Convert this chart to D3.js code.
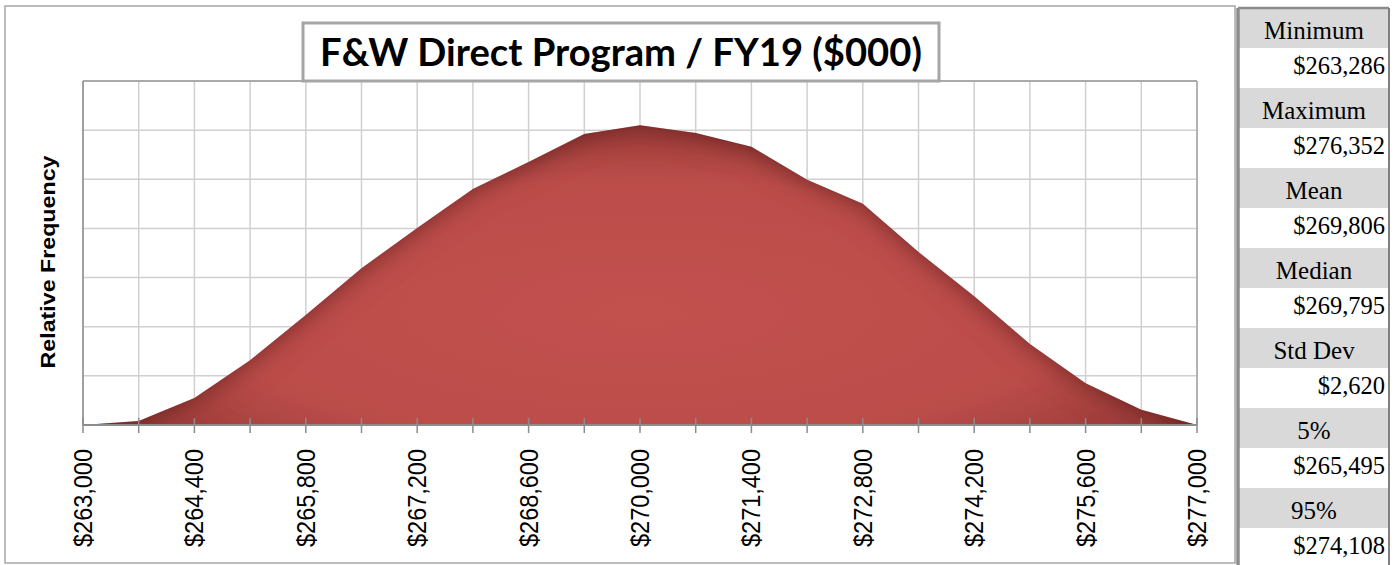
<!DOCTYPE html>
<html>
<head>
<meta charset="utf-8">
<script src="https://cdn.jsdelivr.net/npm/d3@7/dist/d3.min.js"></script>
<style>
  body { margin: 0; background: #fff; }
  svg { display: block; }
</style>
</head>
<body>
<div id="chart"></div>
<script>
// bin positions ($000) and relative frequency
var binCenters = [263000, 263700, 264400, 265100, 265800, 266500, 267200, 267900, 268600, 269300, 270000,
                  270700, 271400, 272100, 272800, 273500, 274200, 274900, 275600, 276300, 277000];
var frequency = [0, 0.0008, 0.0055, 0.0132, 0.0224, 0.0319, 0.0401, 0.0480, 0.0535, 0.0592, 0.0610,
                 0.0594, 0.0566, 0.0499, 0.0450, 0.0352, 0.0262, 0.0165, 0.0085, 0.0031, 0];
var xLabels = [263000, 264400, 265800, 267200, 268600, 270000, 271400, 272800, 274200, 275600, 277000];
var yGrid = [0.01, 0.02, 0.03, 0.04, 0.05, 0.06, 0.07];
var statLabels = ['Minimum', 'Maximum', 'Mean', 'Median', 'Std Dev', '5%', '95%'];
var statValues = ['$263,286', '$276,352', '$269,806', '$269,795', '$2,620', '$265,495', '$274,108'];
var chartTitle = 'F&W Direct Program / FY19 ($000)';
var yTitle = 'Relative Frequency';

var W = 1400, H = 565;
var plot = { left: 83, top: 81, right: 1197, bottom: 425 };

var svg = d3.select('#chart').append('svg').attr('width', W).attr('height', H);
var defs = svg.append('defs');

// radial shading + inner dark edge, close to the bevelled Excel fill
var grad = defs.append('radialGradient').attr('id', 'areaGrad')
    .attr('cx', '50%').attr('cy', '55%').attr('r', '65%');
grad.append('stop').attr('offset', '0%').attr('stop-color', '#c2514e');
grad.append('stop').attr('offset', '60%').attr('stop-color', '#bb4d4a');
grad.append('stop').attr('offset', '100%').attr('stop-color', '#8a3331');

var f = defs.append('filter').attr('id', 'innerShade')
    .attr('x', '-5%').attr('y', '-5%').attr('width', '110%').attr('height', '110%');
f.append('feComponentTransfer').attr('in', 'SourceAlpha').attr('result', 'inv')
  .append('feFuncA').attr('type', 'table').attr('tableValues', '1 0');
f.append('feGaussianBlur').attr('in', 'inv').attr('stdDeviation', 14).attr('result', 'blur');
f.append('feFlood').attr('flood-color', '#3a0d0c').attr('flood-opacity', 0.85).attr('result', 'col');
f.append('feComposite').attr('in', 'col').attr('in2', 'blur').attr('operator', 'in').attr('result', 'shadow');
f.append('feComposite').attr('in', 'shadow').attr('in2', 'SourceAlpha').attr('operator', 'in').attr('result', 'inner');
var fm = f.append('feMerge');
fm.append('feMergeNode').attr('in', 'SourceGraphic');
fm.append('feMergeNode').attr('in', 'inner');

defs.append('clipPath').attr('id', 'plotClip').append('rect')
    .attr('x', plot.left).attr('y', plot.top - 5)
    .attr('width', plot.right - plot.left).attr('height', plot.bottom - plot.top + 5);

// outer chart border
svg.append('rect').attr('x', 5).attr('y', 6).attr('width', 1230).attr('height', 557)
    .attr('fill', '#fff').attr('stroke', '#a6a6a6').attr('stroke-width', 1.5);

var x = d3.scaleLinear().domain([263000, 277000]).range([plot.left, plot.right]);
var y = d3.scaleLinear().domain([0, 0.07]).range([plot.bottom, plot.top]);

// gridlines
svg.append('g').selectAll('line').data(binCenters).join('line')
    .attr('x1', d => x(d)).attr('x2', d => x(d))
    .attr('y1', plot.top).attr('y2', plot.bottom)
    .attr('stroke', '#d0d0d0').attr('stroke-width', 1.5);
svg.append('g').selectAll('line').data(yGrid).join('line')
    .attr('x1', plot.left).attr('x2', plot.right)
    .attr('y1', d => y(d)).attr('y2', d => y(d))
    .attr('stroke', '#d0d0d0').attr('stroke-width', 1.5);

// plot frame
svg.append('line').attr('x1', plot.left).attr('x2', plot.right).attr('y1', plot.top).attr('y2', plot.top)
    .attr('stroke', '#9a9a9a').attr('stroke-width', 1.5);
svg.append('line').attr('x1', plot.right).attr('x2', plot.right).attr('y1', plot.top).attr('y2', plot.bottom)
    .attr('stroke', '#a6a6a6').attr('stroke-width', 1.5);
svg.append('line').attr('x1', plot.left).attr('x2', plot.left).attr('y1', plot.top).attr('y2', plot.bottom)
    .attr('stroke', '#8c8c8c').attr('stroke-width', 1.5);

// area - baseline pushed below the axis so the inner shade stays on the curve
var area = d3.area()
    .x((d, i) => x(binCenters[i]))
    .y0(plot.bottom + 40)
    .y1(d => y(d));
svg.append('g').attr('clip-path', 'url(#plotClip)')
  .append('path')
    .datum(frequency)
    .attr('d', area)
    .attr('fill', 'url(#areaGrad)')
    .attr('filter', 'url(#innerShade)');

// x axis with crossing ticks
var xAxis = svg.append('g');
xAxis.append('line').attr('x1', plot.left).attr('x2', plot.right)
    .attr('y1', plot.bottom).attr('y2', plot.bottom)
    .attr('stroke', '#8c8c8c').attr('stroke-width', 2);
xAxis.selectAll('line.tick').data(binCenters).join('line').attr('class', 'tick')
    .attr('x1', d => x(d)).attr('x2', d => x(d))
    .attr('y1', plot.bottom - 7).attr('y2', plot.bottom + 8)
    .attr('stroke', '#8c8c8c').attr('stroke-width', 1.5);
var fmt = d3.format('$,');
xAxis.selectAll('text').data(xLabels).join('text')
    .attr('transform', d => 'translate(' + (x(d) + 9) + ',' + (plot.bottom + 24) + ') rotate(-90)')
    .attr('text-anchor', 'end')
    .attr('font-family', '"Liberation Sans", Arial, sans-serif')
    .attr('font-size', 25.5)
    .attr('fill', '#000')
    .attr('textLength', 98).attr('lengthAdjust', 'spacingAndGlyphs')
    .text(d => fmt(d));

// y title
svg.append('text')
    .attr('transform', 'translate(55,262) rotate(-90)')
    .attr('text-anchor', 'middle')
    .attr('font-family', '"Liberation Sans", Arial, sans-serif')
    .attr('font-weight', 'bold')
    .attr('font-size', 20)
    .attr('textLength', 213).attr('lengthAdjust', 'spacingAndGlyphs')
    .text(yTitle);

// title box
svg.append('rect').attr('x', 303).attr('y', 23).attr('width', 636).attr('height', 58)
    .attr('fill', '#fff').attr('stroke', '#a6a6a6').attr('stroke-width', 3);
var title = svg.append('text')
    .attr('x', 621).attr('y', 66)
    .attr('text-anchor', 'middle')
    .attr('font-family', 'Lato, "Open Sans", sans-serif')
    .attr('font-weight', 'bold')
    .attr('font-size', 34)
    .text(chartTitle);
var tw = title.node().getComputedTextLength();
title.attr('font-size', 34 * 602 / tw);

// stats panel
var panel = svg.append('g');
var pairH = 80, panelTop = 8, pL = 1238, pR = 1388;
panel.append('rect').attr('x', pL).attr('y', panelTop).attr('width', pR - pL).attr('height', H - panelTop)
    .attr('fill', '#fff');
panel.selectAll('rect.band').data(statLabels).join('rect').attr('class', 'band')
    .attr('x', pL).attr('y', (d, i) => panelTop + i * pairH)
    .attr('width', pR - pL).attr('height', 40)
    .attr('fill', '#d9d9d9');
panel.selectAll('text.lab').data(statLabels).join('text').attr('class', 'lab')
    .attr('x', 1314).attr('y', (d, i) => panelTop + i * pairH + 31)
    .attr('text-anchor', 'middle')
    .attr('font-family', '"Liberation Serif", "Times New Roman", serif')
    .attr('font-size', 25)
    .text(d => d);
panel.selectAll('text.val').data(statValues).join('text').attr('class', 'val')
    .attr('x', 1385).attr('y', (d, i) => panelTop + i * pairH + 66)
    .attr('text-anchor', 'end')
    .attr('font-family', '"Liberation Serif", "Times New Roman", serif')
    .attr('font-size', 24.5)
    .text(d => d);
panel.append('line').attr('x1', pL).attr('x2', pL).attr('y1', panelTop).attr('y2', H)
    .attr('stroke', '#8c8c8c').attr('stroke-width', 3.5);
panel.append('line').attr('x1', pL).attr('x2', pR + 1).attr('y1', panelTop).attr('y2', panelTop)
    .attr('stroke', '#8c8c8c').attr('stroke-width', 2.5);
panel.append('line').attr('x1', pR + 1).attr('x2', pR + 1).attr('y1', panelTop).attr('y2', H)
    .attr('stroke', '#7f7f7f').attr('stroke-width', 2);
</script>
</body>
</html>
